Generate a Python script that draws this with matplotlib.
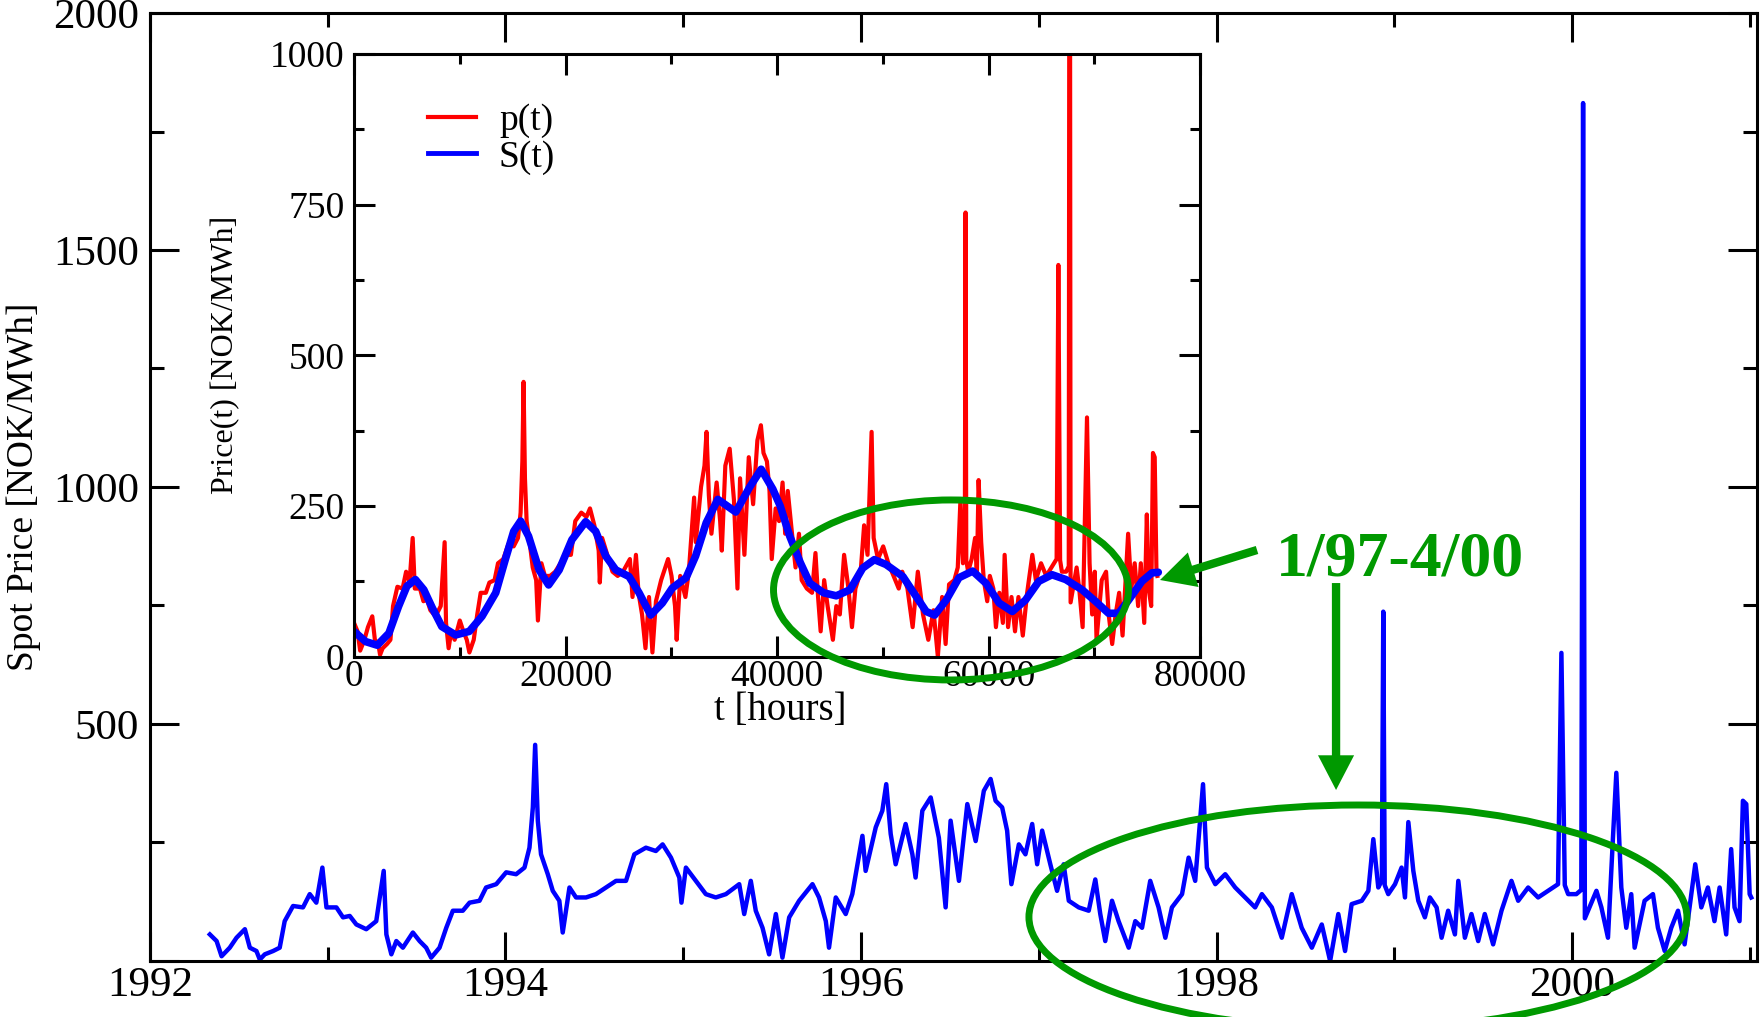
"""Nord Pool spot price 1992-2001 with hourly inset and smoothed S(t)."""
import numpy as np
import matplotlib
matplotlib.use("Agg")
import matplotlib.pyplot as plt
from matplotlib.lines import Line2D
from matplotlib.patches import Ellipse, FancyArrowPatch
from matplotlib.ticker import MultipleLocator

# daily spot price (year, NOK/MWh)
YEARS = [
    1992.337, 1992.375, 1992.403, 1992.449, 1992.487, 1992.534, 1992.562, 1992.599,
    1992.618, 1992.646, 1992.693, 1992.730, 1992.758, 1992.805, 1992.861, 1992.899,
    1992.936, 1992.970, 1992.993, 1993.049, 1993.086, 1993.124, 1993.161, 1993.217,
    1993.273, 1993.315, 1993.330, 1993.358, 1993.386, 1993.423, 1993.479, 1993.517,
    1993.554, 1993.582, 1993.629, 1993.667, 1993.704, 1993.760, 1993.798, 1993.854,
    1993.891, 1993.948, 1994.004, 1994.060, 1994.107, 1994.135, 1994.154, 1994.167,
    1994.182, 1994.200, 1994.238, 1994.266, 1994.303, 1994.322, 1994.360, 1994.397,
    1994.453, 1994.509, 1994.566, 1994.622, 1994.678, 1994.725, 1994.790, 1994.846,
    1994.884, 1994.931, 1994.978, 1994.990, 1995.015, 1995.071, 1995.127, 1995.183,
    1995.240, 1995.315, 1995.343, 1995.380, 1995.408, 1995.446, 1995.483, 1995.521,
    1995.558, 1995.596, 1995.652, 1995.727, 1995.764, 1995.802, 1995.820, 1995.858,
    1995.914, 1995.951, 1996.008, 1996.026, 1996.083, 1996.120, 1996.142, 1996.167,
    1996.195, 1996.251, 1996.289, 1996.307, 1996.345, 1996.392, 1996.438, 1996.476,
    1996.504, 1996.551, 1996.598, 1996.645, 1996.691, 1996.729, 1996.757, 1996.794,
    1996.822, 1996.846, 1996.888, 1996.925, 1996.963, 1996.991, 1997.019, 1997.065,
    1997.103, 1997.140, 1997.169, 1997.225, 1997.281, 1997.318, 1997.346, 1997.374,
    1997.412, 1997.449, 1997.506, 1997.543, 1997.581, 1997.627, 1997.674, 1997.712,
    1997.749, 1997.806, 1997.843, 1997.880, 1997.924, 1997.946, 1997.993, 1998.049,
    1998.105, 1998.161, 1998.217, 1998.255, 1998.311, 1998.367, 1998.423, 1998.479,
    1998.536, 1998.592, 1998.639, 1998.685, 1998.723, 1998.760, 1998.817, 1998.854,
    1998.882, 1998.910, 1998.930, 1998.938, 1998.946, 1998.966, 1999.004, 1999.041,
    1999.060, 1999.079, 1999.107, 1999.135, 1999.172, 1999.200, 1999.238, 1999.266,
    1999.303, 1999.341, 1999.360, 1999.397, 1999.434, 1999.472, 1999.509, 1999.556,
    1999.603, 1999.659, 1999.697, 1999.753, 1999.809, 1999.865, 1999.921, 1999.940,
    1999.959, 1999.978, 2000.024, 2000.052, 2000.062, 2000.072, 2000.137, 2000.165,
    2000.202, 2000.230, 2000.249, 2000.277, 2000.305, 2000.333, 2000.352, 2000.408,
    2000.455, 2000.483, 2000.521, 2000.558, 2000.596, 2000.633, 2000.661, 2000.693,
    2000.727, 2000.764, 2000.801, 2000.830, 2000.867, 2000.895, 2000.914, 2000.942,
    2000.961, 2000.980, 2000.999, 2001.008,
]
PRICES = [
    56, 42, 10, 28, 49, 67, 28, 21,
    3, 14, 21, 28, 84, 116, 113, 141,
    123, 197, 113, 113, 92, 95, 77, 67,
    84, 190, 56, 14, 42, 28, 60, 42,
    28, 7, 28, 70, 106, 106, 123, 127,
    155, 162, 187, 183, 197, 239, 324, 456,
    296, 225, 183, 148, 127, 60, 155, 134,
    134, 141, 155, 169, 169, 225, 239, 232,
    246, 218, 176, 123, 197, 169, 141, 134,
    141, 162, 99, 169, 106, 70, 14, 99,
    7, 92, 127, 162, 134, 84, 28, 134,
    99, 141, 264, 190, 282, 317, 373, 268,
    204, 289, 225, 176, 317, 345, 260, 113,
    296, 169, 331, 253, 359, 384, 338, 324,
    275, 162, 246, 225, 289, 204, 275, 204,
    148, 204, 127, 113, 106, 172, 99, 42,
    127, 84, 28, 84, 70, 169, 113, 49,
    113, 141, 218, 169, 373, 197, 162, 183,
    155, 134, 113, 141, 113, 49, 141, 70,
    28, 77, 0, 99, 21, 120, 127, 148,
    257, 155, 170, 737, 160, 141, 162, 197,
    134, 293, 190, 127, 92, 134, 113, 49,
    106, 56, 169, 49, 99, 42, 99, 35,
    106, 169, 127, 155, 134, 148, 162, 650,
    160, 141, 141, 150, 1810, 90, 148, 113,
    49, 260, 397, 155, 70, 141, 28, 127,
    141, 70, 21, 70, 106, 35, 113, 204,
    113, 155, 84, 155, 56, 236, 113, 84,
    338, 331, 141, 134,
]

# smoothed curve S(t) (hours, NOK/MWh)
S_HOURS = [
    0, 1100, 2200, 3300, 4200, 5000, 5800, 6600, 7400, 8300, 9600, 10900,
    12100, 13400, 14300, 15100, 15750, 16500, 17500, 18400, 19400, 20600,
    21900, 22850, 23800, 24750, 26000, 26950, 28050, 29150, 30100, 31400,
    32300, 33300, 34400, 36100, 37400, 38500, 39600, 40300, 41200, 42200,
    43100, 44400, 45600, 46900, 48100, 49200, 50300, 51900, 53150, 54100,
    54900, 56000, 57200, 58500, 59750, 61000, 62250, 63500, 64750, 66000,
    67300, 68850, 70100, 71350, 72300, 73250, 74500, 75450, 76050,
]
S_VALUES = [
    42, 25, 19, 39, 83, 117, 128, 111, 81, 50, 36, 42,
    67, 106, 161, 208, 225, 200, 144, 119, 144, 194,
    224, 208, 167, 144, 133, 106, 69, 89, 114, 131,
    167, 222, 261, 240, 281, 311, 278, 250, 200, 156,
    122, 106, 101, 111, 147, 161, 153, 133, 100, 75,
    69, 94, 131, 142, 122, 89, 75, 94, 125, 136,
    128, 111, 92, 72, 72, 94, 125, 139, 140,
]

HOURS_PER_YEAR = 8760
GREEN = "#009900"
BLUE = "#0000ff"
RED = "#ff0000"

plt.rcParams["font.family"] = ["Liberation Serif", "DejaVu Serif"]

fig = plt.figure(figsize=(17.64, 10.17), dpi=100)

# main panel
ax = fig.add_axes([0.085, 0.0551, 0.911, 0.9321])
ax.plot(YEARS, PRICES, color=BLUE, lw=3.2)
ax.set_xlim(1992, 2001.04)
ax.set_ylim(0, 2000)
ax.set_xticks([1992, 1994, 1996, 1998, 2000])
ax.xaxis.set_minor_locator(MultipleLocator(1))
ax.set_yticks([0, 500, 1000, 1500, 2000])
ax.set_yticklabels(["", "500", "1000", "1500", "2000"])
ax.yaxis.set_minor_locator(MultipleLocator(250))
ax.tick_params(which="both", direction="in", top=True, right=True, width=2.2,
               labelsize=31)
ax.tick_params(which="major", length=21)
ax.tick_params(which="minor", length=10)
ax.tick_params(axis="x", pad=4)
ax.tick_params(axis="y", pad=8)
for sp in ax.spines.values():
    sp.set_linewidth(2.2)
ax.set_ylabel("Spot Price [NOK/MWh]", fontsize=27)
ax.yaxis.set_label_coords(-0.068, 0.5)

# inset: hourly price and smoothed S(t)
hours = (np.array(YEARS) - YEARS[0]) * HOURS_PER_YEAR
axi = fig.add_axes([0.2007, 0.3543, 0.4796, 0.5926])
axi.plot(hours, PRICES, color=RED, lw=3)
axi.plot(S_HOURS, S_VALUES, color=BLUE, lw=5.5, solid_capstyle="round")
axi.set_xlim(0, 80000)
axi.set_ylim(0, 1000)
axi.set_xticks([0, 20000, 40000, 60000, 80000])
axi.xaxis.set_minor_locator(MultipleLocator(10000))
axi.set_yticks([0, 250, 500, 750, 1000])
axi.yaxis.set_minor_locator(MultipleLocator(125))
axi.tick_params(which="both", direction="in", top=True, right=True, width=2.2,
                labelsize=27)
axi.tick_params(which="major", length=15)
axi.tick_params(which="minor", length=7)
axi.tick_params(axis="x", pad=2)
axi.tick_params(axis="y", pad=7)
for sp in axi.spines.values():
    sp.set_linewidth(2.2)
axi.set_ylabel("Price(t) [NOK/MWh]", fontsize=23)
axi.yaxis.set_label_coords(-0.135, 0.5)
axi.set_xlabel("t [hours]", fontsize=28)
axi.xaxis.set_label_coords(0.5035, -0.058)

handles = [Line2D([], [], color=RED, lw=3), Line2D([], [], color=BLUE, lw=3.5)]
axi.legend(handles, ["p(t)", "S(t)"], loc="upper left", bbox_to_anchor=(0.087, 0.918),
           frameon=False, fontsize=27, handlelength=1.3, handletextpad=0.6,
           labelspacing=0.05, borderpad=0, borderaxespad=0)

# green annotations
fig.add_artist(Ellipse((0.5391, 0.4199), 0.2012, 0.177, transform=fig.transFigure,
                       fill=False, ec=GREEN, lw=5))
fig.add_artist(Ellipse((0.7698, 0.0983), 0.373, 0.2203, transform=fig.transFigure,
                       fill=False, ec=GREEN, lw=5))
fig.text(0.7937, 0.4346, "1/97-4/00", ha="center", va="baseline", fontsize=46,
         fontweight="bold", color=GREEN)
style = "simple,head_length=25,head_width=26,tail_width=6"
for tail, tip in (((0.7126, 0.4592), (0.6576, 0.4297)),
                  ((0.7574, 0.4267), (0.7574, 0.2232))):
    fig.add_artist(FancyArrowPatch(tail, tip, transform=fig.transFigure,
                                   arrowstyle=style, mutation_scale=1,
                                   fc=GREEN, ec="none", shrinkA=0, shrinkB=0))

fig.savefig("out.png", dpi=100)
